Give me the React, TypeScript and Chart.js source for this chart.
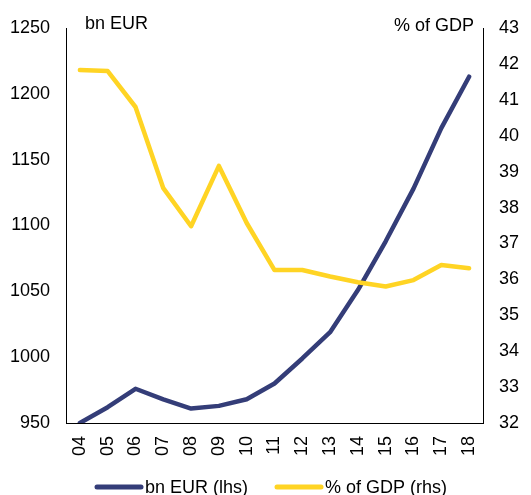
import React, { useEffect, useRef } from "react";
import { Chart, registerables } from "chart.js";

Chart.register(...registerables);

const years = ["04", "05", "06", "07", "08", "09", "10", "11", "12", "13", "14", "15", "16", "17", "18"];
const bnEur = [950, 962, 976, 968, 961, 963, 968, 980, 999, 1019, 1051, 1088, 1128, 1174, 1213];
const pctGdp = [41.83, 41.8, 40.8, 38.54, 37.48, 39.16, 37.57, 36.26, 36.26, 36.08, 35.92, 35.8, 35.98, 36.4, 36.31];
const seriesLabels = ["bn EUR (lhs)", "% of GDP (rhs)"];
const navy = "#343d78";
const yellow = "#ffd424";
const FONT = "Liberation Sans, Arial, sans-serif";
const FS = 18;

const decorPlugin = {
  id: "decor",
  afterDraw(chart: any) {
    const ctx = chart.ctx;
    const a = chart.chartArea;
    ctx.save();
    ctx.fillStyle = "#000";
    ctx.font = `${FS}px ${FONT}`;
    ctx.textBaseline = "middle";
    ctx.textAlign = "left";
    ctx.fillText("bn EUR", a.left + 19, 24);
    ctx.textAlign = "right";
    ctx.fillText("% of GDP", a.right - 9, 26);

    // legend
    const ly = 487;
    const items = [
      { x: 97, color: chart.data.datasets[0].borderColor, label: chart.data.datasets[0].label },
      { x: 277, color: chart.data.datasets[1].borderColor, label: chart.data.datasets[1].label },
    ];
    items.forEach((it) => {
      ctx.strokeStyle = it.color;
      ctx.lineWidth = 5;
      ctx.lineCap = "round";
      ctx.beginPath();
      ctx.moveTo(it.x, ly);
      ctx.lineTo(it.x + 44, ly);
      ctx.stroke();
      ctx.fillStyle = "#000";
      ctx.textAlign = "left";
      ctx.fillText(it.label, it.x + 48, ly + 1);
    });
    ctx.restore();
  },
};

export default function App() {
  const ref = useRef<HTMLCanvasElement>(null);
  useEffect(() => {
    if (!ref.current) return;
    const chart = new Chart(ref.current, {
      type: "line",
      data: {
        labels: years,
        datasets: [
          {
            label: seriesLabels[0],
            data: bnEur,
            borderColor: navy,
            backgroundColor: navy,
            borderWidth: 4.5,
            pointRadius: 0,
            tension: 0,
            yAxisID: "y",
            order: 1,
            borderCapStyle: "round",
            borderJoinStyle: "round",
          },
          {
            label: seriesLabels[1],
            data: pctGdp,
            borderColor: yellow,
            backgroundColor: yellow,
            borderWidth: 4.5,
            pointRadius: 0,
            tension: 0,
            yAxisID: "y1",
            order: 0,
            borderCapStyle: "round",
            borderJoinStyle: "round",
          },
        ],
      },
      options: {
        responsive: false,
        animation: false,
        layout: { padding: { top: 28, bottom: 0, left: 0, right: 0 } },
        plugins: {
          legend: { display: false },
          tooltip: { enabled: false },
        },
        scales: {
          x: {
            offset: true,
            grid: { display: false, drawTicks: false },
            border: { display: true, color: "#000", width: 1 },
            ticks: {
              minRotation: 90,
              maxRotation: 90,
              padding: 13,
              color: "#000",
              font: { family: FONT, size: FS },
              autoSkip: false,
            },
            afterFit: (s: any) => {
              s.height = 72;
            },
          },
          y: {
            position: "left",
            min: 950,
            max: 1250,
            grid: { display: false, drawTicks: false },
            border: { display: true, color: "#000", width: 1 },
            ticks: {
              stepSize: 50,
              padding: 16,
              color: "#000",
              font: { family: FONT, size: FS },
              callback: (v: any) => String(v),
            },
            afterFit: (s: any) => {
              s.width = 66;
            },
          },
          y1: {
            position: "right",
            min: 32,
            max: 43,
            grid: { display: false, drawTicks: false },
            border: { display: true, color: "#000", width: 1 },
            ticks: {
              stepSize: 1,
              padding: 16,
              color: "#000",
              font: { family: FONT, size: FS },
              callback: (v: any) => String(v),
            },
            afterFit: (s: any) => {
              s.width = 48;
            },
          },
        },
      } as any,
      plugins: [decorPlugin],
    });
    return () => chart.destroy();
  }, []);
  return (
    <div style={{ position: "absolute", left: 0, top: 0, width: 531, height: 495, overflow: "hidden", background: "#fff" }}>
      <canvas ref={ref} width={531} height={495} style={{ display: "block" }} />
    </div>
  );
}
